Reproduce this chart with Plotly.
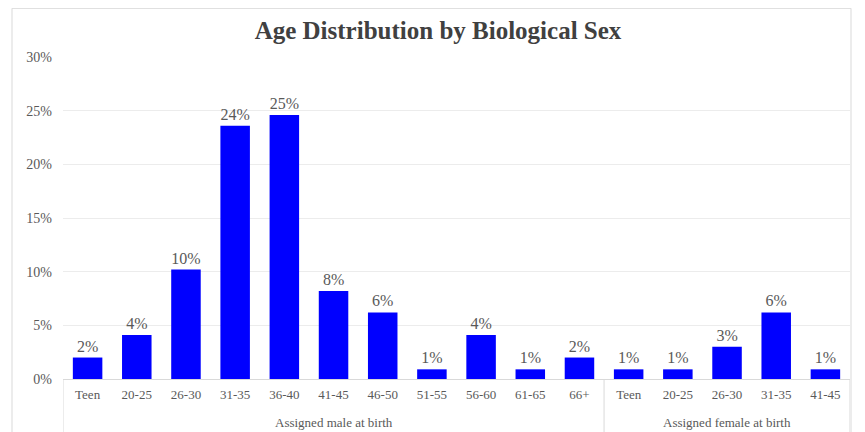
import plotly.graph_objects as go

groups = ["Assigned male at birth"] * 11 + ["Assigned female at birth"] * 5
age_groups = ["Teen", "20-25", "26-30", "31-35", "36-40", "41-45", "46-50",
              "51-55", "56-60", "61-65", "66+",
              "Teen", "20-25", "26-30", "31-35", "41-45"]
shares = [0.020, 0.041, 0.102, 0.236, 0.246, 0.082, 0.062,
          0.009, 0.041, 0.009, 0.020,
          0.009, 0.009, 0.030, 0.062, 0.009]

FONT = "Liberation Serif"
GRAY = "#595959"
LINE = "#d9d9d9"

# page body has an 8px offset; figure coordinates below account for it
W, H = 865, 432
L, R, T, B = 55, 23, 49, 61
plot_h = H - T - B
plot_w = W - L - R

xpos = list(range(len(age_groups)))

fig = go.Figure(go.Bar(
    x=xpos,
    y=shares,
    marker=dict(color="#0000FF", line=dict(width=0)),
    texttemplate="%{y:.0%}",
    textposition="outside",
    textfont=dict(family=FONT, size=16, color=GRAY),
    cliponaxis=False,
    hoverinfo="skip",
))

# group dividers and group labels
shapes = []
annotations = []
bounds = []
start = 0
for i in range(1, len(groups) + 1):
    if i == len(groups) or groups[i] != groups[start]:
        bounds.append((start, i - 1, groups[start]))
        start = i
div_x = [-0.5] + [b[1] + 0.5 for b in bounds]
for dx in div_x:
    shapes.append(dict(type="line", xref="x", yref="paper", x0=dx, x1=dx,
                       y0=0, y1=-70 / plot_h, line=dict(color=LINE, width=1)))
for s, e, name in bounds:
    annotations.append(dict(x=(s + e) / 2, xref="x", y=-43 / plot_h, yref="paper",
                            text=name, showarrow=False, yanchor="middle",
                            font=dict(family=FONT, size=13, color=GRAY)))

# outer chart border
shapes.append(dict(type="rect", xref="paper", yref="paper",
                   x0=(4 - L) / plot_w, x1=(843 - L) / plot_w,
                   y0=-90 / plot_h, y1=(plot_h + T) / plot_h - 0.001,
                   line=dict(color=LINE, width=1), fillcolor="rgba(0,0,0,0)",
                   layer="below"))

fig.update_layout(
    width=W, height=H,
    margin=dict(l=L, r=R, t=T, b=B),
    paper_bgcolor="white", plot_bgcolor="white",
    bargap=0.4,
    showlegend=False,
    title=dict(text="<b>Age Distribution by Biological Sex</b>", x=430 / W, xref="container",
               xanchor="center", y=1 - 22 / H, yanchor="middle",
               font=dict(family=FONT, size=25, color="#404040")),
    font=dict(family=FONT, color=GRAY),
    shapes=shapes,
    annotations=annotations,
)
fig.update_xaxes(
    tickmode="array", tickvals=xpos, ticktext=age_groups,
    range=[-0.5, len(xpos) - 0.5],
    showline=True, linecolor=LINE, linewidth=1,
    tickfont=dict(family=FONT, size=13, color=GRAY), automargin=False,
    showgrid=False, ticks="", zeroline=False, ticklabelstandoff=3,
)
fig.update_yaxes(
    range=[0, 0.30], dtick=0.05, tickformat=".0%",
    showgrid=True, gridcolor="#ececec", gridwidth=1, zeroline=False,
    tickfont=dict(family=FONT, size=14, color=GRAY), automargin=False,
    ticklabelstandoff=10,
)

fig.write_html("out.html")
